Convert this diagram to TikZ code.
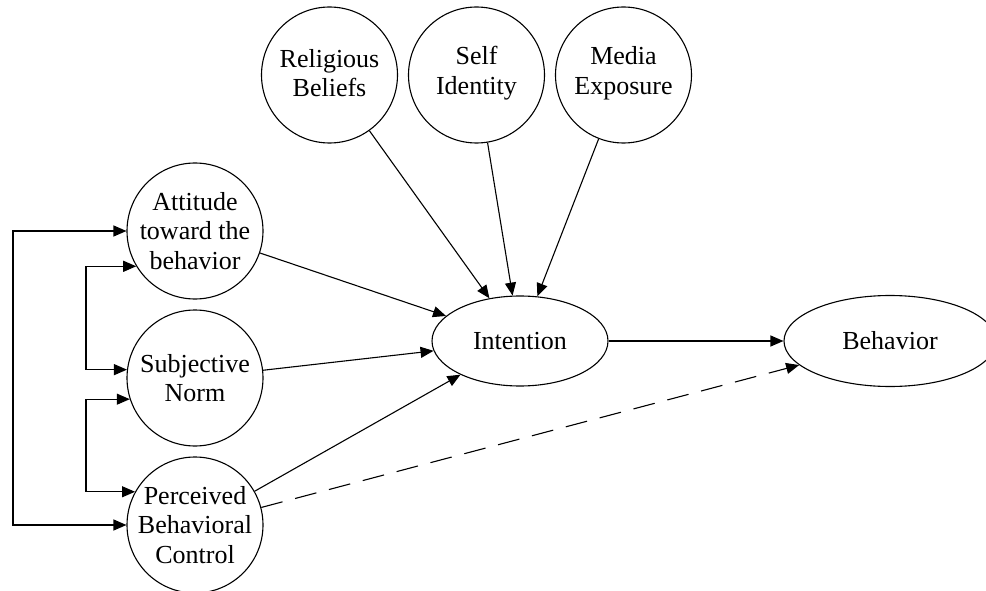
\documentclass[tikz,border=0pt]{standalone}
\usepackage{fontspec}
\setmainfont{Liberation Serif}
\usetikzlibrary{arrows.meta,shapes.geometric,calc}
\begin{document}
\begin{tikzpicture}[x=1pt,y=-1pt,
  line width=1.1pt,
  circ/.style={circle,draw,minimum size=136pt,inner sep=0pt},
  ell/.style={ellipse,draw,inner sep=0pt},
  lbl/.style={align=center,font=\fontsize{26}{29.5}\selectfont,inner sep=0pt},
  arr/.style={-{Triangle[length=13pt,width=11pt]}},
  dbl/.style={{Triangle[length=13pt,width=11pt]}-{Triangle[length=13pt,width=11pt]}},
  dsh/.style={arr,dash pattern=on 22pt off 13pt}]
\clip (0,0) rectangle (986,591);
% nodes
\node[circ] (rel) at (329.5,75) {};
\node[circ] (self) at (476.5,75) {};
\node[circ] (med) at (623.5,75) {};
\node[circ] (att) at (195,231) {};
\node[circ] (sub) at (195,378) {};
\node[circ] (perc) at (195,525) {};
\node[ell,minimum width=176pt,minimum height=90pt] (int) at (520,341) {};
\node[ell,minimum width=212pt,minimum height=91pt] (beh) at (890,341) {};
% labels
\node[lbl] (relT) at (329.5,73) {Religious\\Beliefs};
\node[lbl] (selfT) at (476.5,73) {Self\\Identity};
\node[lbl] (medT) at (623.5,73) {Media\\Exposure};
\node[lbl] (attT) at (att) {Attitude\\toward the\\behavior};
\node[lbl] (subT) at (sub) {Subjective\\Norm};
\node[lbl] (percT) at (perc) {Perceived\\Behavioral\\Control};
\node[lbl] (intT) at (int) {Intention};
\node[lbl] (behT) at (beh) {Behavior};
% connectors
\draw[arr] (rel) -- (int);
\draw[arr] (self) -- (int);
\draw[arr] (med) -- (int);
\draw[arr] (att) -- (int);
\draw[arr] (sub) -- (int);
\draw[arr] (perc) -- (int);
\draw[arr] (int) -- (beh);
\draw[dsh] (perc) -- (beh);
% correlations
\coordinate (xout) at (13,0);
\coordinate (xin) at (86,0);
\draw[dbl] (att.west) -- (att.west -| xout) -- (perc.west -| xout) -- (perc.west);
\draw[dbl] (att.211) -- (att.211 -| xin) -- (sub.173 -| xin) -- (sub.173);
\draw[dbl] (sub.198) -- (sub.198 -| xin) -- (perc.151 -| xin) -- (perc.151);
\end{tikzpicture}
\end{document}
